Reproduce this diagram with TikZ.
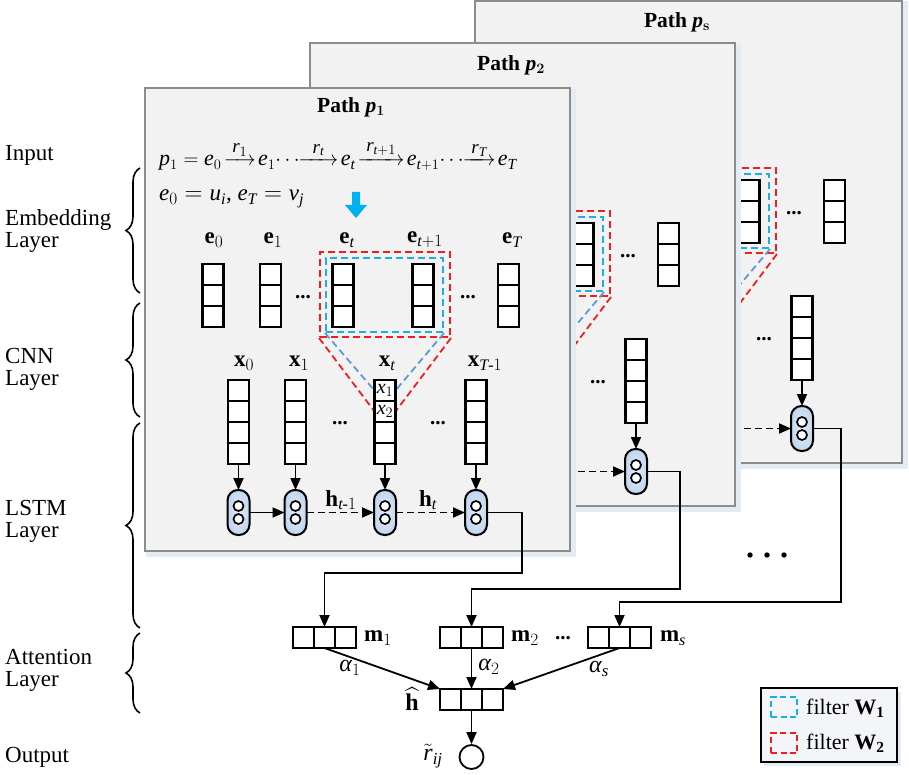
\documentclass[tikz,border=0pt]{standalone}
\usepackage{amsmath}
\usepackage{fontspec}
\setmainfont{Liberation Serif}[NFSSFamily=libserif]
\DeclareSymbolFont{letters}{TU}{libserif}{m}{it}
\SetSymbolFont{letters}{bold}{TU}{libserif}{b}{it}
\Umathchardef\alpha="0 \symletters "03B1
\newcommand{\eqarrow}[2]{\mathrel{\mkern-3mu\overset{\text{\fontsize{19}{19}\selectfont$#1$}}{\makebox[#2pt]{\rightarrowfill}}\mkern-3mu}}
\usetikzlibrary{arrows.meta,calc,decorations.pathreplacing}
\definecolor{framegray}{HTML}{8C8C8C}
\definecolor{framefill}{HTML}{F2F2F2}
\definecolor{fblue}{HTML}{1AAFE6}
\definecolor{lblue}{HTML}{5B9BD5}
\definecolor{fred}{HTML}{F01E1E}
\definecolor{cellblue}{HTML}{C2D6EE}
\definecolor{arrowblue}{HTML}{00B0F0}
\definecolor{legendfill}{HTML}{F3F5F9}
\definecolor{glow}{HTML}{E3EBF5}
\tikzset{
  frame/.style={draw=framegray, fill=framefill, line width=2.5pt},
  lab/.style={font=\fontsize{23}{23}\selectfont, inner sep=0pt},
  ttl/.style={font=\fontsize{21.5}{21.5}\selectfont\bfseries\boldmath, inner sep=0pt},
  side/.style={font=\fontsize{23}{22}\selectfont, align=left, anchor=west, inner sep=0pt},
  dotsn/.style={font=\fontsize{21}{21}\selectfont\bfseries, inner sep=0pt},
  bx/.style={draw, fill=white, line width=2.1pt, inner sep=0pt, outer sep=0pt},
  vbox3/.style={bx, minimum width=21pt, minimum height=63pt,
    path picture={\foreach \k in {1,2}{\draw[line width=2.1pt] ($(path picture bounding box.north west)!\k/3!(path picture bounding box.south west)$) -- ($(path picture bounding box.north east)!\k/3!(path picture bounding box.south east)$);}}},
  vbox4/.style={bx, minimum width=21pt, minimum height=84pt,
    path picture={\foreach \k in {1,2,3}{\draw[line width=2.1pt] ($(path picture bounding box.north west)!\k/4!(path picture bounding box.south west)$) -- ($(path picture bounding box.north east)!\k/4!(path picture bounding box.south east)$);}}},
  hbox3/.style={bx, minimum width=63pt, minimum height=21pt,
    path picture={\foreach \k in {1,2}{\draw[line width=2.1pt] ($(path picture bounding box.north west)!\k/3!(path picture bounding box.north east)$) -- ($(path picture bounding box.south west)!\k/3!(path picture bounding box.south east)$);}}},
  lstm/.style={draw, line width=2pt, inner color=cellblue!45, outer color=cellblue, rounded corners=10.5pt, minimum width=22pt, minimum height=45pt, inner sep=0pt, outer sep=0pt,
    path picture={\draw[fill=white, line width=1.7pt] ($(path picture bounding box.center)+(0,6.5pt)$) circle (5pt) ($(path picture bounding box.center)+(0,-6.5pt)$) circle (5pt);}},
  bluerect/.style={draw=fblue, dash pattern=on 7pt off 4pt, line width=2pt, inner sep=0pt},
  redrect/.style={draw=fred, dash pattern=on 7pt off 4pt, line width=2pt, inner sep=0pt},
  blueline/.style={draw=lblue, dash pattern=on 7pt off 4pt, line width=1.8pt},
  redline/.style={draw=fred, dash pattern=on 7pt off 4pt, line width=1.8pt},
  arr/.style={-{Triangle[length=12pt,width=10pt]}, line width=1.8pt},
  darr/.style={arr, dash pattern=on 7pt off 4pt},
  brace/.style={decorate, decoration={brace, amplitude=14pt}, line width=1.6pt},
}
\newcommand{\pathbody}{%
  \node[redrect, minimum width=130pt, minimum height=85pt] (fr) at (385,294.5) {};
  \node[bluerect, minimum width=117pt, minimum height=74pt] (fb) at (384.5,295) {};
  \coordinate (xt1w) at (374.5,390.5);
  \coordinate (xt1e) at (395.5,390.5);
  \coordinate (xt2w) at (374.5,411.5);
  \coordinate (xt2e) at (395.5,411.5);
  \draw[blueline] (fb.south west) -- (xt1w);
  \draw[blueline] (fb.south east) -- (xt1e);
  \draw[redline] (fr.south west) -- (xt2w);
  \draw[redline] (fr.south east) -- (xt2e);
  \node[vbox3] (e0) at (213,295.5) {};
  \node[vbox3] (e1) at (270.5,295.5) {};
  \node[vbox3] (et) at (343,295.5) {};
  \node[vbox3] (etp) at (423,295.5) {};
  \node[vbox3] (eT) at (508.5,295.5) {};
  \node[dotsn] (ed1) at (303,297) {...};
  \node[dotsn] (ed2) at (468,297) {...};
  \node[vbox4] (x0) at (238.5,422) {};
  \node[vbox4] (x1) at (295.5,422) {};
  \node[vbox4] (xt) at (385,422) {};
  \node[vbox4] (xT) at (476,422) {};
  \node[dotsn] (xd1) at (340,423) {...};
  \node[dotsn] (xd2) at (438,423) {...};
  \node[lstm] (c0) at (238.5,512.5) {};
  \node[lstm] (c1) at (295.5,512.5) {};
  \node[lstm] (c2) at (385,512.5) {};
  \node[lstm] (c3) at (476,512.5) {};
  \draw[arr] (x0.south) -- (c0.north);
  \draw[arr] (x1.south) -- (c1.north);
  \draw[arr] (xt.south) -- (c2.north);
  \draw[arr] (xT.south) -- (c3.north);
  \draw[arr] (c0.east) -- (c1.west);
  \draw[darr] (c1.east) -- (c2.west);
  \draw[darr] (c2.east) -- (c3.west);
}
\begin{document}
\begin{tikzpicture}[x=1pt,y=-1pt]
\useasboundingbox[fill=white] (0,0) rectangle (909,775);
% ---- path p_s
\draw[glow, line width=5pt] (478,4) rectangle (905,466);
\draw[frame] (475,0.5) rectangle (902,463);
\node[ttl] (tps) at (677,22) {Path $p_{\mathbf{s}}$};
\begin{scope}[shift={(326,-84)}, name prefix=ps-]
\pathbody
\end{scope}
% ---- path p_2
\draw[glow, line width=5pt] (313,47) rectangle (738,509);
\draw[frame] (310,43) rectangle (735,506);
\node[ttl] (tp2) at (511,65) {Path $p_{2}$};
\begin{scope}[shift={(160,-41)}, name prefix=p2-]
\pathbody
\end{scope}
% ---- path p_1
\draw[glow, line width=5pt] (148,92) rectangle (573,554);
\draw[frame] (145,88) rectangle (570,551);
\node[ttl] (tp1) at (351,107) {Path $p_{1}$};
\begin{scope}[name prefix=p1-]
\pathbody
\node[lab, anchor=base west, font=\fontsize{22}{22}\selectfont] (eq1) at (159,166) {\thickmuskip=5mu\medmuskip=2mu$p_1 = e_0 \eqarrow{r_1}{32} e_1 \!\cdots\! \eqarrow{r_t}{40} e_t \eqarrow{r_{t+1}}{47} e_{t+1} \!\cdots\! \eqarrow{r_T}{33} e_T$};
\node[lab, anchor=base west, font=\fontsize{23}{23}\selectfont] (eq2) at (159,201) {$e_0 = u_i$, $e_T = v_j$};
\fill[arrowblue] (352,192) -- (360,192) -- (360,205) -- (367,205) -- (356,218) -- (345,205) -- (352,205) -- cycle;
\node[lab] (le0) at (214,240) {$\mathbf{e}_0$};
\node[lab] (le1) at (273,240) {$\mathbf{e}_1$};
\node[lab] (let) at (347,240) {$\mathbf{e}_t$};
\node[lab] (letp) at (425,240) {$\mathbf{e}_{t+1}$};
\node[lab] (leT) at (512,240) {$\mathbf{e}_T$};
\node[lab] (lx0) at (244,363) {$\mathbf{x}_0$};
\node[lab] (lx1) at (299,363) {$\mathbf{x}_1$};
\node[lab] (lxt) at (387,363) {$\mathbf{x}_t$};
\node[lab] (lxT) at (485,363) {$\mathbf{x}_{T\text{-}1}$};
\node[lab, font=\fontsize{20}{20}\selectfont] (cx1) at (385,390.5) {$x_1$};
\node[lab, font=\fontsize{20}{20}\selectfont] (cx2) at (385,411.5) {$x_2$};
\node[lab] (lh1) at (341,500) {$\mathbf{h}_{t\text{-}1}$};
\node[lab] (lh2) at (428,500) {$\mathbf{h}_t$};
\end{scope}
% ---- left labels and braces
\node[side] (sIn) at (5,155) {Input};
\node[side] (sEm) at (5,231) {Embedding\\Layer};
\node[side] (sCN) at (5,369) {CNN\\Layer};
\node[side] (sLS) at (5,521) {LSTM\\Layer};
\node[side] (sAt) at (5,670) {Attention\\Layer};
\node[side] (sOu) at (5,757) {Output};
\draw[brace] (140,293) -- (140,168);
\draw[brace] (140,417) -- (140,303);
\draw[brace] (140,628) -- (140,423);
\draw[brace] (140,713) -- (140,633);
% ---- attention
\node[hbox3] (m1) at (324.5,637.5) {};
\node[hbox3] (m2) at (471.5,637.5) {};
\node[hbox3] (ms) at (619.5,637.5) {};
\node[hbox3] (hh) at (471.5,699.5) {};
\node[lab] (lm1) at (378,638) {$\mathbf{m}_1$};
\node[lab] (lm2) at (525,638) {$\mathbf{m}_2$};
\node[dotsn] (md) at (563,638) {...};
\node[lab] (lms) at (673,638) {$\mathbf{m}_s$};
\node[lab, font=\fontsize{24}{24}\selectfont] (la1) at (350,668) {$\alpha_1$};
\node[lab, font=\fontsize{24}{24}\selectfont] (la2) at (489,667) {$\alpha_2$};
\node[lab, font=\fontsize{24}{24}\selectfont] (las) at (599,669) {$\alpha_s$};
\node[lab, font=\fontsize{24}{24}\selectfont] (lhh) at (412,699) {$\widehat{\mathbf{h}}$};
\node[circle, draw, line width=1.8pt, minimum size=24pt, inner sep=0pt] (out) at (471.5,757) {};
\node[lab, font=\fontsize{24}{24}\selectfont] (lr) at (433,756) {$\tilde{r}_{ij}$};
\coordinate (j1) at (522,573);
\coordinate (j2) at (680,589);
\coordinate (j3) at (841,602);
\draw[arr] (p1-c3.east) -| (j1) -| (m1.north);
\draw[arr] (p2-c3.east) -| (j2) -| (m2.north);
\draw[arr] (ps-c3.east) -| (j3) -| (ms.north);
\draw[arr] (m1.south) -- (hh.north west);
\draw[arr] (m2.south) -- (hh.north);
\draw[arr] (ms.south) -- (hh.north east);
\draw[arr] (hh.south) -- (out.north);
% ---- more paths dots
\fill (750,555) circle (2.7pt) (767,555) circle (2.7pt) (784,555) circle (2.7pt);
% ---- legend
\fill[glow] (764,692) rectangle (901,766);
\node[draw, line width=1.6pt, fill=legendfill, minimum width=136pt, minimum height=74pt, inner sep=0pt] (leg) at (829,725) {};
\node[bluerect, minimum width=26pt, minimum height=20pt, dash pattern=on 6pt off 3.5pt] (lgb) at (784,707) {};
\node[redrect, minimum width=26pt, minimum height=20pt, dash pattern=on 6pt off 3.5pt] (lgr) at (784,743) {};
\node[lab, anchor=west, font=\fontsize{22}{22}\selectfont] (lgbt) at (806,708) {filter $\mathbf{W}_{\mathbf{1}}$};
\node[lab, anchor=west, font=\fontsize{22}{22}\selectfont] (lgrt) at (806,743) {filter $\mathbf{W}_{\mathbf{2}}$};
\end{tikzpicture}
\end{document}
